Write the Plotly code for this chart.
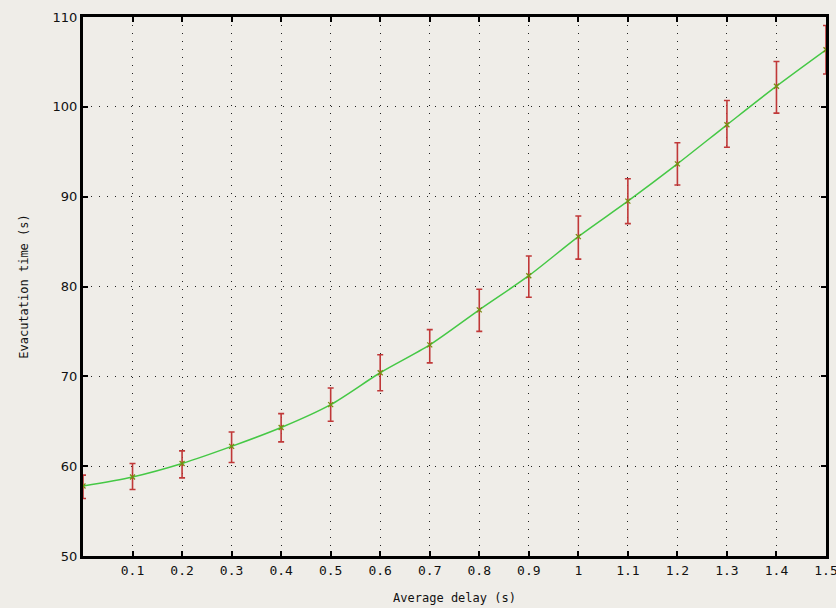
import plotly.graph_objects as go

delay = [0.0, 0.1, 0.2, 0.3, 0.4, 0.5, 0.6, 0.7, 0.8, 0.9, 1.0, 1.1, 1.2, 1.3, 1.4, 1.5]
evac_time = [57.8, 58.8, 60.3, 62.2, 64.3, 66.85, 70.4, 73.5, 77.4, 81.2, 85.55, 89.5, 93.65, 98.0, 102.3, 106.35]
err_plus = [1.2, 1.5, 1.4, 1.6, 1.55, 1.85, 2.0, 1.7, 2.3, 2.2, 2.3, 2.5, 2.35, 2.7, 2.75, 2.7]
err_minus = [1.4, 1.4, 1.6, 1.8, 1.6, 1.85, 2.0, 2.0, 2.4, 2.4, 2.5, 2.5, 2.35, 2.5, 3.0, 2.7]

x_ticks = [0.1, 0.2, 0.3, 0.4, 0.5, 0.6, 0.7, 0.8, 0.9, 1.0, 1.1, 1.2, 1.3, 1.4, 1.5]
x_tick_labels = ["0.1", "0.2", "0.3", "0.4", "0.5", "0.6", "0.7", "0.8", "0.9", "1", "1.1", "1.2", "1.3", "1.4", "1.5"]
y_ticks = [50, 60, 70, 80, 90, 100, 110]

bg = "#efede8"

fig = go.Figure()
fig.add_trace(go.Scatter(
    x=delay, y=evac_time,
    mode="lines+markers",
    line=dict(color="#45c845", width=1.5, shape="spline", smoothing=0.8),
    marker=dict(symbol="x-thin", size=5, color="#7a8a10", line=dict(color="#7a8a10", width=1.3)),
    error_y=dict(type="data", symmetric=False, array=err_plus, arrayminus=err_minus,
                 color="#c03838", thickness=1.6, width=3),
    showlegend=False,
))

fig.update_layout(
    width=836, height=608,
    margin=dict(l=83, r=10, t=17, b=52),
    paper_bgcolor=bg, plot_bgcolor=bg,
    font=dict(family="DejaVu Sans Mono", size=12, color="#111"),
    xaxis=dict(
        range=[0, 1.5], tickmode="array", tickvals=x_ticks, ticktext=x_tick_labels,
        automargin=False, ticklabeloverflow="allow",
        showline=True, linecolor="black", linewidth=3, mirror="ticks",
        ticks="inside", ticklen=5, tickwidth=2, tickcolor="black",
        showgrid=True, gridcolor="#222", gridwidth=1, griddash="1px,7px",
        zeroline=False,
        title=dict(text="Average delay (s)", font=dict(family="DejaVu Sans Mono", size=12), standoff=18),
        tickfont=dict(family="DejaVu Sans Mono", size=13),
    ),
    yaxis=dict(
        range=[50, 110], tickmode="array", tickvals=y_ticks,
        automargin=False, ticklabeloverflow="allow",
        showline=True, linecolor="black", linewidth=3, mirror="ticks",
        ticks="inside", ticklen=5, tickwidth=2, tickcolor="black",
        showgrid=True, gridcolor="#222", gridwidth=1, griddash="1px,7px",
        zeroline=False,
        title=dict(text="Evacutation time (s)", font=dict(family="DejaVu Sans Mono", size=12), standoff=22),
        tickfont=dict(family="DejaVu Sans", size=13),
    ),
)

fig.write_html(
    "out.html",
    config={"displayModeBar": False},
    post_script="document.body.style.margin='0';document.body.style.overflow='hidden';document.body.style.background='%s';" % bg,
)
